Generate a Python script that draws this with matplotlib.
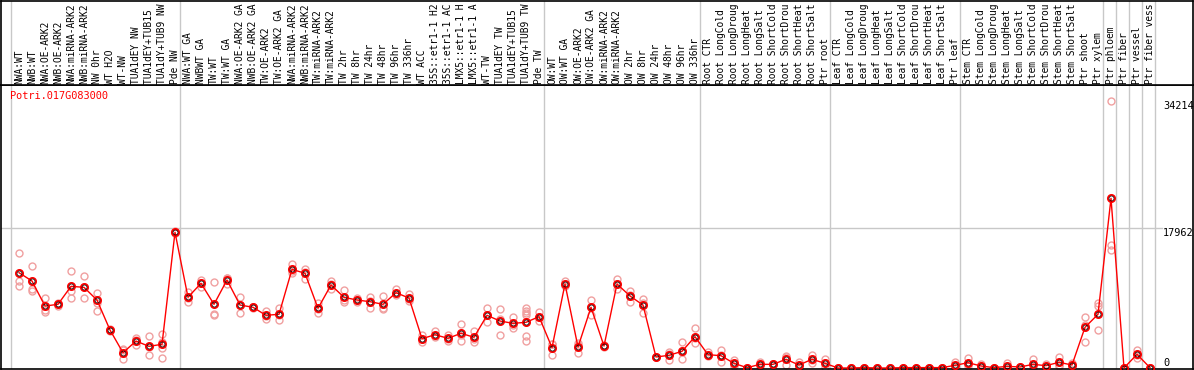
import numpy as np
import matplotlib
matplotlib.use('Agg')
import matplotlib.pyplot as plt

gene = 'Potri.017G083000'

samples = ['NWA:WT', 'NWB:WT', 'NWA:OE-ARK2', 'NWB:OE-ARK2', 'NWA:miRNA-ARK2', 'NWB:miRNA-ARK2',
           'NW 0hr', 'WT H2O', 'WT-NW', 'TUA1dEY NW', 'TUA1dEY+TUB15 NW', 'TUA1dY+TUB9 NW', 'Pde NW',
           'NWA:WT GA', 'NWBWT GA', 'TW:WT', 'TW:WT GA', 'NWA:OE-ARK2 GA', 'NWB:OE-ARK2 GA',
           'TW:OE-ARK2', 'TW:OE-ARK2 GA', 'NWA:miRNA-ARK2', 'NWB:miRNA-ARK2', 'TW:miRNA-ARK2',
           'TW:miRNA-ARK2', 'TW 2hr', 'TW 8hr', 'TW 24hr', 'TW 48hr', 'TW 96hr', 'TW 336hr',
           'WT ACC', '35S::etr1-1 H2O', '35S::etr1-1 ACC', 'LMX5::etr1-1 H2O', 'LMX5::etr1-1 ACC',
           'WT-TW', 'TUA1dEY TW', 'TUA1dEY+TUB15 TW', 'TUA1dY+TUB9 TW', 'Pde TW',
           'OW:WT', 'OW:WT GA', 'OW:OE-ARK2', 'OW:OE-ARK2 GA', 'OW:miRNA-ARK2', 'OW:miRNA-ARK2',
           'OW 2hr', 'OW 8hr', 'OW 24hr', 'OW 48hr', 'OW 96hr', 'OW 336hr',
           'Root CTR', 'Root LongCold', 'Root LongDrought', 'Root LongHeat', 'Root LongSalt',
           'Root ShortCold', 'Root ShortDrought', 'Root ShortHeat', 'Root ShortSalt', 'Ptr root',
           'Leaf CTR', 'Leaf LongCold', 'Leaf LongDrought', 'Leaf LongHeat', 'Leaf LongSalt',
           'Leaf ShortCold', 'Leaf ShortDrought', 'Leaf ShortHeat', 'Leaf ShortSalt', 'Ptr leaf',
           'Stem CTR', 'Stem LongCold', 'Stem LongDrought', 'Stem LongHeat', 'Stem LongSalt',
           'Stem ShortCold', 'Stem ShortDrought', 'Stem ShortHeat', 'Stem ShortSalt',
           'Ptr shoot', 'Ptr xylem', 'Ptr phloem', 'Ptr fiber', 'Ptr vessel', 'Ptr fiber vessel']

# first sample index of each block (separator drawn before it), last one = end
group_starts = [0, 13, 41, 53, 63, 73, 84, 85, 86, 87, 88]

means = [12230, 11160, 7950, 8170, 10480, 10350, 8720, 4875, 1960, 3460, 2780, 3040, 17410,
         9070, 10870, 8170, 11290, 8080, 7790, 6760, 6890, 12660, 12150, 7660, 10650, 9070,
         8720, 8510, 8170, 9660, 8980, 3760, 4270, 3810, 4450, 3940, 6760, 6030, 5730, 5860, 6590,
         2610, 10780, 2690, 7790, 2820, 10780, 9240, 8080, 1410, 1630, 2140, 4020,
         1710, 1580, 600, 40, 470, 470, 1120, 385, 1120, 600,
         0, 0, 50, 0, 0, 50, 50, 50, 50, 340,
         680, 260, 40, 210, 130, 470, 300, 730, 385, 5220, 6890,
         21770, 0, 1760, 40]

reps = [[14750, 11200, 10520], [13090, 10100, 9880], [8980, 7440, 7190], [8380, 7950, 8170],
        [12400, 9840, 8940], [11760, 8940, 10350], [9620, 8300, 7310], [4960, 4800, 4870],
        [2400, 1120, 2350], [3810, 2950, 3600], [4060, 1630, 2650], [4360, 3300, 2570, 1280],
        [17600, 17300, 17350],
        [9790, 8430, 9000], [11290, 10430, 10900], [11030, 6930, 6760], [11590, 10780, 11500],
        [9150, 7020, 8080], [7790, 7700, 7880], [7350, 6290, 6650], [7700, 6120, 6850],
        [13300, 12230, 12450], [12700, 11380, 12370], [8300, 7100, 7580], [11120, 10100, 10730],
        [9970, 8510, 8730], [8720, 8430, 9000], [9150, 7740, 8640], [9200, 7570, 7740],
        [10100, 9500, 9380], [9460, 8600, 8880], [4230, 3370, 3680], [4790, 4100, 3920],
        [4230, 3500, 3700], [5650, 3500, 4200], [4790, 3370, 3660], [7660, 5860, 6760],
        [7570, 4190, 6320], [6590, 5090, 5510], [7650, 7350, 7100, 6800, 4100, 3500],
        [7220, 6030, 6520],
        [3040, 1670, 3120], [11100, 10500, 10740], [3200, 1880, 2990], [8720, 6800, 7850],
        [2820, 2700, 2940], [11380, 10140, 10820], [9880, 8510, 9330], [8850, 7100, 8290],
        [1410, 1350, 1470], [2090, 1030, 1770], [3300, 1120, 2000], [5090, 3170, 3800],
        [2000, 1500, 1630], [2310, 810, 1620], [1000, 500, 300], [60, 20, 40], [810, 350, 250],
        [470, 420, 520], [1580, 385, 1400], [810, 200, 150], [1630, 700, 1030], [1120, 100, 580],
        [0, 0, 0], [0, 0, 0], [60, 40, 50], [0, 0, 0], [0, 0, 0], [60, 40, 50], [60, 40, 50],
        [60, 40, 50], [60, 40, 50], [810, 100, 110],
        [1320, 200, 520], [500, 200, 80], [40, 40, 40], [680, 0, 0], [130, 130, 130],
        [1150, 200, 60], [500, 250, 150], [1450, 300, 440], [600, 300, 255],
        [6590, 5520, 3370], [8300, 7990, 4875],
        [34214, 15740, 15140], [0, 0, 0], [2310, 1320, 1650], [40, 40, 40]]

ytick_vals = [0, 17962, 34214]

# the label strip only has room for this many characters (the source page cuts them)
max_chars = 14

W, H = 1194, 370
fig = plt.figure(figsize=(W / 100, H / 100), dpi=100)
mono = 'DejaVu Sans Mono'

x0 = (1 - 19) / 13
x1 = (1193 - 19) / 13
ymin, ymax = -128, 36310

# plot area: y pixels 85..369
ax = fig.add_axes([1 / W, 1 / H, 1192 / W, 284 / H])
# label strip: y pixels 0..85
lab = fig.add_axes([1 / W, 285 / H, 1192 / W, 84 / H])

for a in (ax, lab):
    a.set_xlim(x0, x1)
    a.set_xticks([])
    a.set_yticks([])
    for s in a.spines.values():
        s.set_color('black')
        s.set_linewidth(1.2)
    for g in group_starts:
        a.axvline(g - 0.65, color='#c8c8c8', lw=1, zorder=1)

ax.set_ylim(ymin, ymax)
lab.set_ylim(0, 84)

x = np.arange(len(samples))
for i, r in enumerate(reps):
    ax.plot([i] * len(r), r, 'o', ms=5, mfc='none', mec='#f0a0a0', mew=1, zorder=2)
ax.plot(x, means, color='red', lw=1, zorder=3)
ax.plot(x, means, 'o', ms=5.2, mfc='none', mec='red', mew=1.3, zorder=4)
ax.plot(x, means, 'o', ms=3.6, mfc='none', mec='black', mew=0.5, zorder=5)

# horizontal grid at the middle value
gx = (1162 - 1) / 1192
ax.axhline(ytick_vals[1], xmin=0, xmax=gx, color='#c8c8c8', lw=1, zorder=1)

tr = ax.get_yaxis_transform()
tx = (1163 - 1) / 1192
ax.text(tx, ytick_vals[2], str(ytick_vals[2]), transform=tr, ha='left', va='top',
        family=mono, fontsize=7.4)
ax.text(tx, ytick_vals[1], str(ytick_vals[1]), transform=tr, ha='left', va='top',
        family=mono, fontsize=7.4)
ax.text(tx, ytick_vals[0], str(ytick_vals[0]), transform=tr, ha='left', va='bottom',
        family=mono, fontsize=7.4)

ax.text(9 / 1192, 0.978, gene, transform=ax.transAxes, ha='left', va='top',
        color='red', family=mono, fontsize=7.4)

for i, name in enumerate(samples):
    lab.text(i, 1.5, name[:max_chars], rotation=90, ha='center', va='bottom',
             family=mono, fontsize=6.9)

fig.savefig('out.png', dpi=100)
